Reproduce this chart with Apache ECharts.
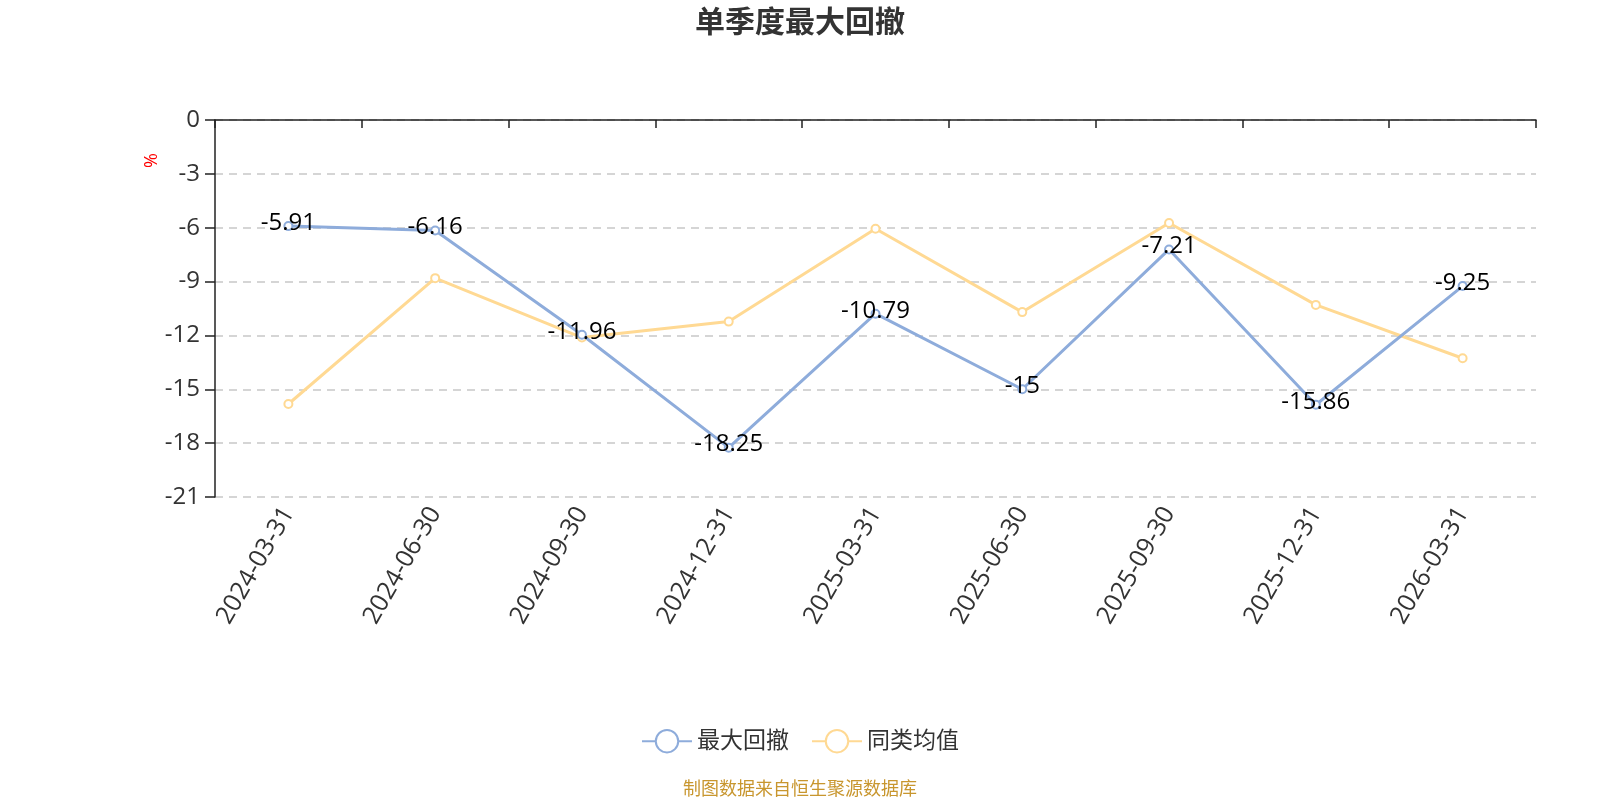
<!DOCTYPE html>
<html lang="zh">
<head>
    <meta charset="UTF-8">
    <title>单季度最大回撤</title>
    <script src="https://cdn.jsdelivr.net/npm/echarts@6/dist/echarts.min.js"></script>
    <style>
        html, body {
            margin: 0;
            padding: 0;
            background: #fff;
        }
        #main {
            width: 1600px;
            height: 800px;
        }
    </style>
</head>
<body>
<div id="main"></div>
<script>
    // 数据
    var categories = ['2024-03-31', '2024-06-30', '2024-09-30', '2024-12-31', '2025-03-31',
        '2025-06-30', '2025-09-30', '2025-12-31', '2026-03-31'];
    var maxDrawdown = [-5.91, -6.16, -11.96, -18.25, -10.79, -15, -7.21, -15.86, -9.25];
    var peerAverage = [-15.82, -8.81, -12.12, -11.23, -6.06, -10.70, -5.74, -10.30, -13.27];
    var seriesNames = ['最大回撤', '同类均值'];

    var font = '"Open Sans", "Noto Sans CJK SC", sans-serif';
    var chart = echarts.init(document.getElementById('main'));

    chart.setOption({
        textStyle: { fontFamily: font },
        title: [{
            text: '单季度最大回撤',
            left: 'center',
            top: 3,
            textStyle: { fontSize: 30, fontWeight: 'bold', color: '#333', fontFamily: font }
        }, {
            text: '制图数据来自恒生聚源数据库',
            left: 'center',
            top: 776,
            textStyle: { fontSize: 18, fontWeight: 'normal', color: '#c8962e', fontFamily: font }
        }],
        legend: {
            data: seriesNames,
            left: 'center',
            top: 724,
            itemWidth: 50,
            itemHeight: 28,
            itemGap: 22,
            textStyle: { fontSize: 23, color: '#333', fontFamily: font }
        },
        grid: {
            left: 215,
            right: 64,
            top: 120,
            bottom: 303
        },
        graphic: [{
            type: 'text',
            x: 143,
            y: 168,
            rotation: Math.PI / 2,
            style: { text: '%', fill: '#ff0000', fontSize: 18, fontFamily: font }
        }],
        xAxis: [{
            type: 'category',
            data: categories,
            position: 'bottom',
            axisLine: { show: false, onZero: false },
            axisTick: { show: false },
            axisLabel: { rotate: 60, fontSize: 25, color: '#333', margin: 12, interval: 0 }
        }, {
            type: 'category',
            data: categories,
            position: 'top',
            axisLine: { show: true, onZero: false, lineStyle: { color: '#222', width: 1.5 } },
            axisTick: { show: true, inside: true, length: 8, lineStyle: { color: '#222', width: 1.5 } },
            axisLabel: { show: false }
        }],
        yAxis: {
            type: 'value',
            min: -21,
            max: 0,
            interval: 3,
            axisLine: { show: true, lineStyle: { color: '#222', width: 1.5 } },
            axisTick: { show: true, length: 10, lineStyle: { color: '#222', width: 1.5 } },
            axisLabel: { fontSize: 24, color: '#333', margin: 15 },
            splitLine: { show: true, lineStyle: { type: [8, 6], color: '#c8c8c8', width: 1.5 } }
        },
        series: [{
            name: seriesNames[0],
            type: 'line',
            data: maxDrawdown,
            symbol: 'emptyCircle',
            symbolSize: 8,
            itemStyle: { color: '#8eacdb' },
            lineStyle: { width: 3, color: '#8eacdb' },
            z: 3,
            label: {
                show: true,
                position: 'inside',
                offset: [0, -3],
                fontSize: 24,
                color: '#000',
                fontFamily: font
            }
        }, {
            name: seriesNames[1],
            type: 'line',
            data: peerAverage,
            symbol: 'emptyCircle',
            symbolSize: 8,
            itemStyle: { color: '#ffd993' },
            lineStyle: { width: 3, color: '#ffd993' },
            z: 2
        }]
    });
</script>
</body>
</html>
